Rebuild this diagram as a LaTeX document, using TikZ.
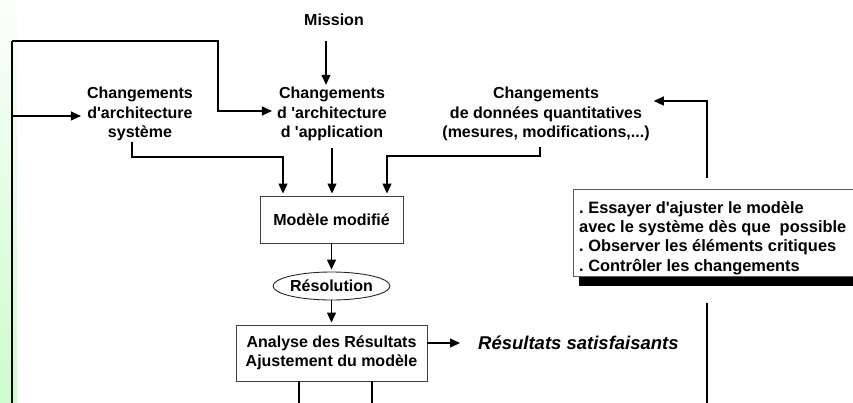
\documentclass[tikz,border=0pt]{standalone}
\usepackage{fontspec}
\setmainfont{Liberation Sans}
\usetikzlibrary{arrows.meta,shapes.geometric,calc}
\newcommand{\aq}{\textquotesingle}
\definecolor{stripgreen}{RGB}{205,252,205}
\definecolor{stripwhite}{RGB}{250,255,250}
\frenchspacing
\begin{document}
\begin{tikzpicture}[x=1pt,y=-1pt,
  lbl/.style={font=\fontsize{16}{19.5}\selectfont\bfseries, align=center, inner sep=0pt},
  conn/.style={line width=1.2pt, black},
  arr/.style={conn, -{Triangle[length=10pt,width=9pt]}},
  boxst/.style={draw=black!75, line width=0.9pt, fill=white}]
\useasboundingbox (0,0) rectangle (853,403);
\clip (0,0) rectangle (853,403);
\shade[top color=stripwhite, bottom color=stripgreen] (0,0) rectangle (17,403);

% nodes
\node[lbl] (mission) at (334,20) {Mission};
\node[lbl] (cas) at (140,114) {Changements\\d\aq architecture\\système};
\node[lbl] (caa) at (332,114) {Changements\\d \aq architecture\\d \aq application};
\node[lbl] (cdq) at (546,114) {Changements\\de données quantitatives\\(mesures, modifications,...)};
\node[lbl, boxst, minimum width=143pt, minimum height=47pt] (mm) at (331.5,219.5) {Modèle modifié};
\node[lbl, boxst, draw=black!85, ellipse, minimum width=113pt, minimum height=28pt] (res) at (331.5,286) {Résolution};
\node[lbl, boxst, minimum width=191pt, minimum height=56pt] (ana) at (331.5,353) {Analyse des Résultats\\Ajustement du modèle};
\node[font=\fontsize{18.5}{22}\selectfont\bfseries\itshape, anchor=west, inner sep=0pt] (sat) at (478,343) {Résultats satisfaisants};
\node[boxst, draw=black!65, minimum width=300pt, minimum height=87pt, inner sep=0pt,
      anchor=north west] (box) at (573,189) {};
\node[font=\fontsize{16.4}{19.3}\selectfont\bfseries, align=left, inner sep=0pt,
      anchor=north west] (boxtext) at ([xshift=6pt,yshift=-12pt]box.north west)
  {. Essayer d\aq ajuster le modèle\\avec le système dès que~ possible\\. Observer les éléments critiques\\. Contrôler les changements};
\fill[black] ([xshift=6pt]box.south west) rectangle ([yshift=-9pt]box.south east);

% coordinates
\coordinate (lt) at (12,41);
\coordinate (lb) at (12,410);
\coordinate (tb) at (218,41);
\coordinate (rv) at (707,0);
\coordinate (bl) at (132,157);
\coordinate (br) at (540,156);

% connectors
\draw[conn, line width=1.5pt] (lb) -- (lt);
\draw[arr] (lt) -- (tb) |- ([xshift=-5pt,yshift=3pt]caa.west);
\draw[arr, shorten >=6pt] ([yshift=-2pt]lt |- cas.west) -- ([yshift=-2pt]cas.west);
\draw[arr, shorten <=15pt, shorten >=2pt] ([xshift=-8pt]mission.south) -- ([xshift=-8pt]mission.south |- caa.north);
\draw[arr, shorten <=7pt, shorten >=2pt] (caa.south) -- (caa.south |- mm.north);
\draw[arr, shorten <=1pt, shorten >=2pt] (cas.south -| bl) -- (bl) -| ([xshift=-48.5pt]mm.north);
\draw[arr, shorten <=6pt, shorten >=2pt] (cdq.south -| br) -- (br) -| ([xshift=55.5pt]mm.north);
\draw[arr, shorten >=2pt] (mm.south) -- (res.north);
\draw[arr, shorten >=2pt] (res.south) -- (ana.north);
\draw[arr, shorten >=18pt] ([yshift=10pt]ana.east) -- (sat.west);
\draw[conn] ([xshift=-32.5pt]ana.south) -- ++(0,40);
\draw[conn] ([xshift=40.5pt]ana.south) -- ++(0,40);
\draw[arr, shorten <=11pt] (rv |- box.north) |- ([xshift=4pt,yshift=13pt]cdq.east);
\draw[conn, shorten <=26pt] (rv |- box.south) -- (rv |- lb);
\end{tikzpicture}
\end{document}
